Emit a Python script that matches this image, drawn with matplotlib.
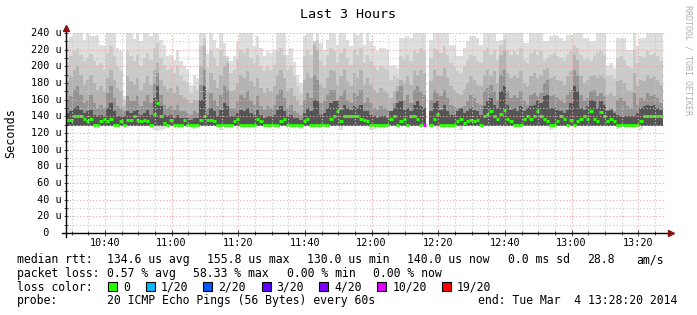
import matplotlib
matplotlib.use('Agg')
import matplotlib.pyplot as plt
import matplotlib.transforms as mtransforms
from matplotlib.patches import Rectangle
import numpy as np

nan = np.nan

# One column per 60 s ping round, minutes after the graph start (10:28:20).
start_hm = (10, 28, 20)
major_labels = ['10:40', '11:00', '11:20', '11:40', '12:00',
                '12:20', '12:40', '13:00', '13:20']

# Median rtt (us) per round.
median_us = [
    136, 136, 140, 140, 140, 137, 134, 137, 130, 130,
    134, 137, 134, 137, 130, 130, 134, 130, 136, 136,
    140, 136, 134, 136, 134, 130, 143, 155.8, 141, 132,
    130, 136, 130, 130, 130, 136, 130, 130, 130, 130,
    136, 140, 136, 136, 134, 130, 130, 130, 130, 130,
    134, 137, 130, 130, 130, 130, 130, 137, 134, 130,
    130, 130, 130, 130, 134, 137, 130, 130, 130, 130,
    130, 134, 137, 130, 130, 130, 130, 130, 130, 137,
    140, 146, 134, 140, 140, 140, 140, 140, 137, 136,
    134, 130, 130, 130, 130, 130, 130, 137, 141, 130,
    134, 137, 130, 140, 140, 137, 130, 130, nan, 130,
    137, 143, 130, 130, 130, 130, 130, 134, 137, 132,
    134, 136, 134, 136, 130, 140, 143, 146, 140, 137,
    143, 148, 137, 134, 130, 130, 130, 137, 140, 137,
    140, 146, 141, 137, 134, 130, 130, 134, 140, 137,
    130, 136, 130, 134, 137, 140, 137, 146, 137, 134,
    145, 141, 134, 137, 134, 130, 130, 130, 130, 130,
    130, 130, 134, 140, 140, 140, 140, 140, 140, nan,
]

# Packet loss (%) per round, only the lossy one differs from 0.
loss_pct = [0.0] * 180
loss_pct[107] = 58.33
loss_pct[108] = nan

# Smoke: tops of the ping layers (us), outermost (max ping) first.
smoke_max = [
    228, 235, 242, 242, 242, 232, 242, 236, 237, 238,
    226, 224, 242, 242, 242, 222, 218, 165, 242, 242,
    233, 242, 230, 242, 242, 236, 242, 242, 232, 226,
    212, 214, 208, 220, 206, 200, 196, 178, 190, 186,
    242, 242, 215, 242, 232, 222, 242, 228, 212, 206,
    212, 230, 242, 242, 242, 242, 225, 236, 222, 212,
    218, 216, 220, 242, 242, 242, 214, 222, 205, 190,
    180, 236, 242, 242, 230, 242, 228, 220, 232, 242,
    242, 226, 242, 242, 232, 224, 242, 238, 242, 226,
    242, 230, 225, 218, 222, 222, 220, 200, 202, 198,
    234, 234, 236, 234, 242, 242, 242, 242, nan, 232,
    242, 242, 242, 242, 242, 226, 226, 212, 212, 222,
    230, 236, 236, 234, 226, 242, 242, 242, 242, 230,
    232, 242, 242, 242, 242, 240, 242, 228, 228, 242,
    242, 242, 242, 230, 230, 236, 238, 236, 234, 230,
    238, 238, 242, 242, 242, 234, 234, 230, 230, 242,
    242, 242, 200, 204, 198, 234, 234, 234, 220, 220,
    242, 224, 234, 234, 242, 242, 242, 242, 242, nan,
]
smoke_q4 = [
    205, 212, 218, 222, 214, 206, 210, 215, 206, 200,
    204, 196, 216, 224, 212, 200, 194, 160, 218, 212,
    206, 214, 200, 210, 216, 208, 222, 228, 210, 202,
    196, 198, 192, 200, 188, 182, 180, 168, 176, 172,
    224, 234, 198, 218, 210, 200, 220, 212, 210, 192,
    196, 208, 220, 216, 222, 210, 204, 214, 200, 194,
    200, 196, 202, 218, 222, 214, 196, 200, 188, 176,
    168, 212, 220, 214, 230, 232, 206, 200, 214, 222,
    218, 204, 216, 222, 210, 202, 220, 214, 222, 204,
    214, 206, 200, 196, 200, 198, 196, 184, 188, 186,
    212, 208, 214, 206, 220, 216, 222, 218, nan, 210,
    222, 218, 216, 224, 214, 204, 200, 194, 192, 200,
    208, 214, 212, 206, 204, 218, 222, 214, 220, 208,
    226, 232, 220, 214, 218, 214, 222, 208, 204, 216,
    220, 214, 218, 206, 210, 214, 216, 212, 210, 206,
    214, 218, 226, 222, 214, 208, 210, 206, 212, 216,
    218, 214, 188, 190, 186, 210, 212, 208, 200, 198,
    220, 204, 212, 210, 218, 214, 216, 212, 206, nan,
]
smoke_q3 = [
    182, 188, 196, 200, 190, 178, 184, 190, 180, 172,
    176, 170, 186, 196, 184, 174, 170, 152, 188, 182,
    178, 186, 172, 180, 188, 178, 196, 204, 184, 176,
    172, 174, 168, 176, 166, 162, 160, 156, 160, 158,
    200, 225, 172, 192, 184, 174, 190, 200, 204, 170,
    172, 180, 190, 186, 194, 182, 176, 186, 174, 168,
    174, 170, 176, 190, 196, 186, 170, 174, 164, 158,
    154, 184, 192, 186, 226, 220, 178, 174, 186, 196,
    194, 178, 188, 196, 182, 176, 192, 186, 196, 178,
    186, 178, 172, 168, 174, 170, 168, 162, 170, 176,
    184, 180, 188, 178, 194, 190, 196, 192, nan, 182,
    196, 190, 188, 198, 186, 176, 172, 168, 166, 172,
    180, 188, 184, 178, 176, 190, 196, 188, 194, 180,
    214, 218, 192, 186, 190, 186, 194, 180, 176, 188,
    192, 186, 190, 196, 198, 186, 188, 184, 182, 178,
    188, 194, 214, 208, 188, 180, 184, 188, 190, 186,
    190, 186, 166, 168, 164, 182, 184, 180, 172, 170,
    192, 176, 184, 182, 190, 186, 188, 184, 178, nan,
]
smoke_q2 = [
    160, 164, 172, 176, 166, 156, 160, 166, 156, 150,
    154, 150, 168, 176, 162, 152, 150, 146, 164, 158,
    158, 164, 152, 158, 166, 156, 180, 192, 166, 154,
    150, 152, 148, 154, 146, 146, 144, 142, 146, 144,
    178, 196, 150, 168, 160, 152, 166, 176, 172, 150,
    150, 158, 166, 162, 170, 158, 154, 164, 152, 148,
    152, 150, 154, 166, 172, 162, 150, 154, 146, 144,
    142, 160, 168, 162, 190, 184, 156, 158, 166, 172,
    172, 160, 164, 172, 160, 156, 168, 164, 172, 156,
    162, 156, 150, 148, 152, 150, 148, 146, 156, 170,
    176, 160, 166, 156, 172, 176, 170, 166, nan, 160,
    172, 168, 164, 172, 162, 154, 152, 150, 148, 152,
    158, 166, 162, 156, 154, 170, 174, 178, 170, 160,
    190, 196, 170, 162, 166, 162, 170, 158, 154, 166,
    168, 164, 168, 180, 184, 164, 166, 162, 160, 156,
    166, 172, 196, 190, 166, 158, 162, 170, 172, 164,
    168, 164, 148, 150, 146, 160, 162, 158, 152, 150,
    168, 154, 162, 160, 168, 164, 166, 162, 156, nan,
]
smoke_q1 = [
    144, 146, 150, 152, 148, 144, 146, 148, 142, 140,
    142, 140, 150, 156, 146, 140, 140, 140, 146, 144,
    146, 148, 142, 144, 148, 142, 162, 176, 152, 142,
    140, 142, 138, 142, 138, 138, 138, 136, 138, 138,
    160, 176, 142, 150, 146, 140, 148, 156, 152, 140,
    140, 144, 148, 146, 150, 144, 142, 148, 142, 138,
    140, 140, 142, 148, 152, 146, 140, 142, 138, 138,
    136, 144, 150, 146, 160, 158, 142, 144, 150, 156,
    158, 158, 148, 154, 150, 148, 152, 150, 154, 146,
    146, 142, 140, 138, 140, 140, 138, 146, 150, 156,
    158, 148, 150, 146, 154, 158, 152, 150, nan, 146,
    156, 158, 148, 154, 146, 142, 142, 146, 150, 144,
    146, 150, 148, 146, 142, 152, 158, 162, 154, 150,
    170, 176, 154, 148, 150, 146, 152, 146, 150, 152,
    154, 160, 156, 164, 166, 150, 150, 148, 146, 144,
    148, 156, 176, 170, 150, 148, 152, 160, 158, 150,
    158, 154, 146, 148, 144, 142, 140, 140, 140, 140,
    140, 144, 150, 152, 154, 152, 154, 150, 148, nan,
]
# Lowest ping per round (bottom of the outer smoke), inner layers sit on smoke_floor.
smoke_min = [128] * 180
for k, v in {26: 124, 27: 123, 28: 124, 29: 125, 38: 125, 46: 124, 51: 125,
             70: 125, 82: 124, 91: 124, 92: 125, 111: 125, 118: 124, 145: 124,
             165: 125, 172: 124}.items():
    smoke_min[k] = v
smoke_min[108] = smoke_min[179] = nan
smoke_floor = 128

loss_steps = [0, 1, 2, 3, 4, 10, 19]
loss_names = ['0', '1/20', '2/20', '3/20', '4/20', '10/20', '19/20']
loss_colors = ['#26ff00', '#00b8ff', '#0059ff', '#5e00ff', '#7e00ff', '#dd00ff', '#ff0000']
smoke_colors = ['#dedede', '#cbcbcb', '#b3b3b3', '#939393', '#555555']

W, H = 697, 315
fig = plt.figure(figsize=(W / 100, H / 100), dpi=100)
fig.patch.set_facecolor('white')
plt.rcParams['font.family'] = 'DejaVu Sans Mono'

def fx(px):
    return px / W

def fy(py):
    return 1 - py / H

ax = fig.add_axes([fx(66), fy(233), 600 / W, 200 / H])
ax.set_xlim(0, 180)
ax.set_ylim(0, 240)

n = len(median_us)
edges = np.arange(n + 1)
tops = [smoke_max, smoke_q4, smoke_q3, smoke_q2, smoke_q1]
for i, (top, col) in enumerate(zip(tops, smoke_colors)):
    top = np.array(top, float)
    bottom = np.array(smoke_min, float) if i == 0 else np.where(np.isnan(top), nan, smoke_floor)
    ax.stairs(top, edges, baseline=bottom, fill=True, color=col, lw=0, zorder=1)

# median line, coloured by the number of lost pings
med = np.array(median_us, float)
loss = np.array(loss_pct, float)
ok = ~np.isnan(med)
seg_colors = []
for k in np.where(ok)[0]:
    lost = loss[k] * 20 / 100
    idx = max(i for i, s in enumerate(loss_steps) if s <= lost + 1e-9)
    seg_colors.append(loss_colors[idx])
ax.hlines(med[ok], np.where(ok)[0], np.where(ok)[0] + 1, colors=seg_colors,
          linewidth=2.2, zorder=2, capstyle='butt')

# time axis
h0, m0, s0 = start_hm
t0 = h0 * 60 + m0 + s0 / 60
major_x = [int(l[:2]) * 60 + int(l[3:]) - t0 for l in major_labels]
minor_x = np.arange(10 * 60 + 30 - t0, 180, 5)
ax.set_xticks(major_x, labels=major_labels)
ax.set_xticks(minor_x, minor=True)
ax.set_yticks(np.arange(0, 241, 20))
ax.set_yticks(np.arange(10, 240, 20), minor=True)
ax.grid(which='major', color='#e8a4a4', linestyle=(0, (1, 2)), linewidth=0.8)
ax.grid(which='minor', color='#c8c8c8', linestyle=(0, (1, 2)), linewidth=0.8)
ax.set_axisbelow(False)
ax.tick_params(axis='x', which='major', direction='inout', length=4, width=0.5,
               labelsize=7.3, pad=1.5)
ax.tick_params(axis='x', which='minor', direction='inout', length=2.5, width=0.5)
ax.tick_params(axis='y', which='both', direction='inout', length=2.5, width=0.5,
               labelleft=False)
for s in ax.spines.values():
    s.set_visible(False)

blend = mtransforms.blended_transform_factory(ax.transAxes, ax.transData)
for v in range(0, 241, 20):
    lab = '%3d u' % v if v else '  0'
    ax.text((30.7 - 66) / 600, v, lab, transform=blend, ha='left', va='center',
            fontsize=7.3)

# axis lines with arrows
ax.plot([-0.006, 1.006], [0, 0], color='black', lw=1, clip_on=False, zorder=4,
        transform=ax.transAxes)
ax.plot([0, 0], [-0.02, 1.02], color='black', lw=1, clip_on=False, zorder=4,
        transform=ax.transAxes)
ax.plot([1.008], [0], marker='>', ms=5, color='#8b1010', clip_on=False,
        transform=ax.transAxes, zorder=5)
ax.plot([0], [1.025], marker='^', ms=5, color='#8b1010', clip_on=False,
        transform=ax.transAxes, zorder=5)

fig.text(fx(347.5), fy(18.3), 'Last 3 Hours', ha='center', va='baseline', fontsize=9.6)
fig.text(fx(11), fy(133), 'Seconds', rotation=90, ha='center', va='center', fontsize=8.5)
fig.text(fx(688), fy(5), 'RRDTOOL / TOBI OETIKER', rotation=-90, ha='center', va='top',
         fontsize=6, color='#b0b0b0')

# legend block
fs = 8.3
rows = [
    (263.3, [(16.7, 'median rtt:'), (107.3, '134.6 us avg'), (207.3, '155.8 us max'),
             (307, '130.0 us min'), (407.3, '140.0 us now'), (507.7, '0.0 ms sd'),
             (586.7, '28.8'), (636, 'am/s')]),
    (276.7, [(16.7, 'packet loss:'), (107.3, '0.57 % avg'), (193.3, '58.33 % max'),
             (286.7, '0.00 % min'), (372.7, '0.00 % now')]),
    (290.7, [(16.7, 'loss color:')]),
    (304.3, [(16.7, 'probe:'), (107.3, '20 ICMP Echo Pings (56 Bytes) every 60s'),
             (478.3, 'end: Tue Mar  4 13:28:20 2014')]),
]
for y, items in rows:
    for x, s in items:
        fig.text(fx(x), fy(y), s, ha='left', va='baseline', fontsize=fs)

box_x = [108.3, 145.7, 203.3, 261.7, 319.3, 377.3, 441.7]
for bx, name, col in zip(box_x, loss_names, loss_colors):
    fig.add_artist(Rectangle((fx(bx), fy(290.5)), 9 / W, 9 / H, transform=fig.transFigure,
                             facecolor=col, edgecolor='black', lw=0.8))
    fig.text(fx(bx + 15), fy(290.7), name, ha='left', va='baseline', fontsize=fs)

fig.savefig('out.png', dpi=100, facecolor='white')
